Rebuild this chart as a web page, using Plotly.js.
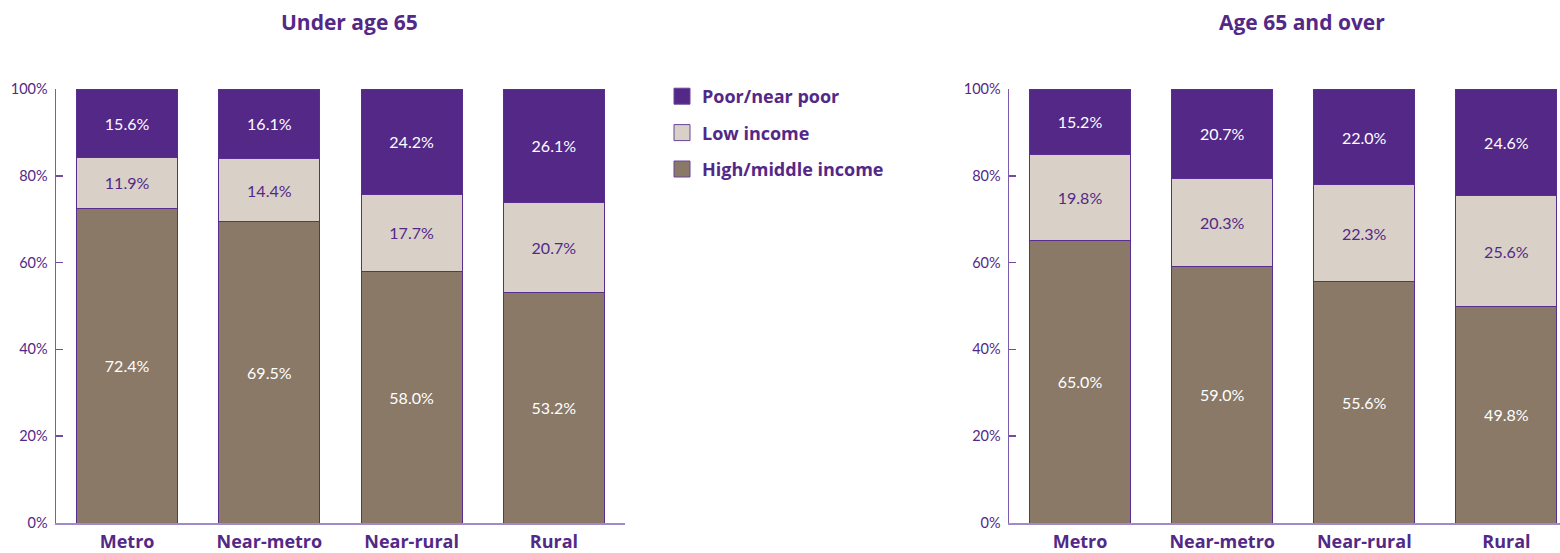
<!DOCTYPE html>
<html>
<head>
<meta charset="utf-8">
<script src="https://cdn.plot.ly/plotly-3.0.1.min.js"></script>
<style>html,body{margin:0;padding:0;background:#fff;}#chart{width:1560px;height:553px;}</style>
</head>
<body>
<div id="chart"></div>
<script>
const categories = ["Metro", "Near-metro", "Near-rural", "Rural"];
const seriesNames = ["Poor/near poor", "Low income", "High/middle income"];
const under65_poor = [15.6, 16.1, 24.2, 26.1];
const under65_low = [11.9, 14.4, 17.7, 20.7];
const under65_high = [72.4, 69.5, 58.0, 53.2];
const over65_poor = [15.2, 20.7, 22.0, 24.6];
const over65_low = [19.8, 20.3, 22.3, 25.6];
const over65_high = [65.0, 59.0, 55.6, 49.8];
const panelTitles = ["Under age 65", "Age 65 and over"];
const yTicks = [0, 20, 40, 60, 80, 100];

const PURPLE = "#532887";
const LIGHT = "#d9d1c7";
const BROWN = "#8a7967";
const FONT = "Lato, 'Open Sans', sans-serif";
const BFONT = "'Open Sans', Lato, sans-serif";

const colors = {poor: PURPLE, low: LIGHT, high: BROWN};
const textColors = {poor: "#ffffff", low: PURPLE, high: "#ffffff"};

function bar(y, key, xa, ya) {
  return {
    type: "bar", x: categories, y: y, xaxis: xa, yaxis: ya,
    showlegend: false,
    marker: {color: colors[key], line: {color: "#5a2e91", width: 1}},
    texttemplate: "%{y:.1f}%",
    textposition: "inside",
    insidetextanchor: "middle",
    textangle: 0,
    constraintext: "none",
    insidetextfont: {family: FONT, size: 16, color: textColors[key]},
    hoverinfo: "skip"
  };
}

const traces = [
  bar(under65_high, "high", "x", "y"),
  bar(under65_low, "low", "x", "y"),
  bar(under65_poor, "poor", "x", "y"),
  bar(over65_high, "high", "x2", "y2"),
  bar(over65_low, "low", "x2", "y2"),
  bar(over65_poor, "poor", "x2", "y2")
];
// legend entries
[["poor", 0], ["low", 1], ["high", 2]].forEach(([k, i]) => {
  traces.push({
    type: "scatter", mode: "markers", x: [null], y: [null], xaxis: "x", yaxis: "y",
    name: seriesNames[i], legendgroup: k, showlegend: true,
    marker: {symbol: "square", size: 20, color: colors[k], line: {color: "#6a449c", width: 1}}
  });
});

const yDom = [30/553, 464/553];
function yaxis(anchor) {
  return {
    domain: yDom, range: [0, 100], anchor: anchor,
    tickvals: yTicks, ticktext: yTicks.map(v => v + "%"),
    ticks: "inside", ticklen: 7, tickcolor: "#6e4da3", tickwidth: 1.5,
    showline: true, linecolor: "#7b5cae", linewidth: 1.5,
    showgrid: false, zeroline: false,
    tickfont: {family: FONT, size: 14.5, color: PURPLE},
    ticklabelstandoff: 4, fixedrange: true
  };
}
function xaxis(dom, rng, anchor) {
  return {
    domain: dom, range: rng, anchor: anchor,
    showline: true, linecolor: "#a08bc8", linewidth: 2,
    ticks: "", showgrid: false, zeroline: false,
    tickfont: {family: BFONT, size: 18, color: PURPLE, weight: "bold"},
    ticklabelstandoff: 1,
    fixedrange: true
  };
}

const layout = {
  width: 1560, height: 553,
  margin: {l: 0, r: 0, t: 0, b: 0},
  paper_bgcolor: "#fff", plot_bgcolor: "rgba(0,0,0,0)",
  barmode: "stack", bargap: 0.29,
  font: {family: FONT, color: PURPLE},
  xaxis: xaxis([56/1560, 625/1560], [-0.5, 3.5], "y"),
  yaxis: yaxis("x"),
  xaxis2: xaxis([1009/1560, 1], [-0.5, 3.377], "y2"),
  yaxis2: yaxis("x2"),
  showlegend: true,
  legend: {
    x: 662/1560, y: 1 - 78/553, xanchor: "left", yanchor: "top",
    font: {family: BFONT, size: 18, color: PURPLE, weight: "bold"},
    traceorder: "grouped", tracegroupgap: 10,
    bgcolor: "rgba(0,0,0,0)", itemclick: false, itemdoubleclick: false
  },
  annotations: [
    {text: panelTitles[0], xref: "paper", yref: "paper", x: 349/1560, y: 1 - 22/553,
     xanchor: "center", yanchor: "middle", showarrow: false,
     font: {family: BFONT, size: 21, color: PURPLE, weight: "bold"}},
    {text: panelTitles[1], xref: "paper", yref: "paper", x: 1302/1560, y: 1 - 22/553,
     xanchor: "center", yanchor: "middle", showarrow: false,
     font: {family: BFONT, size: 21, color: PURPLE, weight: "bold"}}
  ]
};

Plotly.newPlot("chart", traces, layout, {displayModeBar: false, staticPlot: true});
</script>
</body>
</html>
